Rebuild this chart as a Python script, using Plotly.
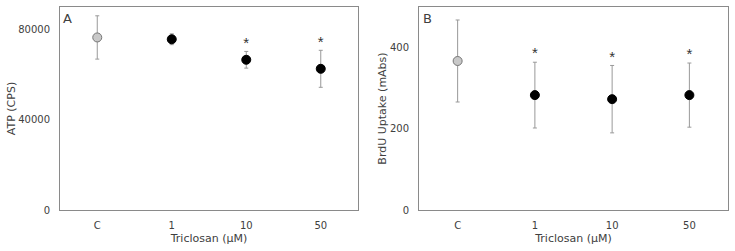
import plotly.graph_objects as go

categories = ["C", "1", "10", "50"]
atp_mean = [76500, 75700, 66600, 62600]
atp_err = [9600, 2400, 3700, 8200]
atp_sig = [False, False, True, True]
brdu_mean = [367, 283, 273, 283]
brdu_err = [101, 81, 83, 79]
brdu_sig = [False, True, True, True]
marker_colors = ["#c8c8c8", "#000000", "#000000", "#000000"]
marker_lines = ["#777777", "#000000", "#000000", "#000000"]

FONT = "DejaVu Sans"
TXT = "#404040"

fig = go.Figure()

def add_panel(mean, err, sig, xa, ya):
    fig.add_trace(go.Scatter(
        x=categories, y=mean, mode="markers",
        marker=dict(size=9, color=marker_colors, line=dict(color=marker_lines, width=1)),
        error_y=dict(type="data", array=err, visible=True, color="#999999", thickness=1, width=2),
        xaxis=xa, yaxis=ya, showlegend=False, hoverinfo="skip"))
    sx = [c for c, s in zip(categories, sig) if s]
    sy = [m + e for m, e, s in zip(mean, err, sig) if s]
    fig.add_trace(go.Scatter(
        x=sx, y=sy, mode="text", text=["*"] * len(sx), textposition="top center",
        textfont=dict(family="Liberation Sans", size=15, color="#333333"),
        xaxis=xa, yaxis=ya, showlegend=False, hoverinfo="skip"))

add_panel(atp_mean, atp_err, atp_sig, "x", "y")
add_panel(brdu_mean, brdu_err, brdu_sig, "x2", "y2")

ax_common = dict(showline=True, linecolor="#8a8a8a", linewidth=1, mirror=True,
                 showgrid=False, zeroline=False, ticks="",
                 tickfont=dict(family=FONT, size=10, color=TXT),
                 automargin=False)
tfont = dict(family=FONT, size=11, color=TXT)

ydom = [1 - 210 / 251, 1 - 7 / 251]
fig.update_layout(
    width=735, height=251,
    margin=dict(l=0, r=0, t=0, b=0),
    paper_bgcolor="white", plot_bgcolor="white",
    font=dict(family=FONT, color=TXT),
    xaxis=dict(domain=[60 / 735, 358 / 735], range=[-0.5, 3.5], type="category",
               title=dict(text="Triclosan (µM)", font=tfont, standoff=4),
               ticklabelstandoff=6, **ax_common),
    yaxis=dict(domain=ydom, range=[0, 90000], tickvals=[0, 40000, 80000],
               ticktext=["0", "40000", "80000"],
               title=dict(text="ATP (CPS)", font=tfont, standoff=0),
               ticklabelstandoff=7, **ax_common),
    xaxis2=dict(domain=[419 / 735, 728 / 735], range=[-0.5, 3.5], type="category", anchor="y2",
                title=dict(text="Triclosan (µM)", font=tfont, standoff=4),
                ticklabelstandoff=6, **ax_common),
    yaxis2=dict(domain=ydom, range=[0, 500], tickvals=[0, 200, 400], anchor="x2",
                title=dict(text="BrdU Uptake (mAbs)", font=tfont, standoff=1),
                ticklabelstandoff=7, **ax_common),
    annotations=[
        dict(text="A", xref="x domain", yref="y domain", x=0.005, y=0.99, showarrow=False,
             xanchor="left", yanchor="top", font=dict(family=FONT, size=13, color=TXT)),
        dict(text="B", xref="x2 domain", yref="y2 domain", x=0.005, y=0.99, showarrow=False,
             xanchor="left", yanchor="top", font=dict(family=FONT, size=13, color=TXT)),
    ],
)

fig.write_html("out.html")
